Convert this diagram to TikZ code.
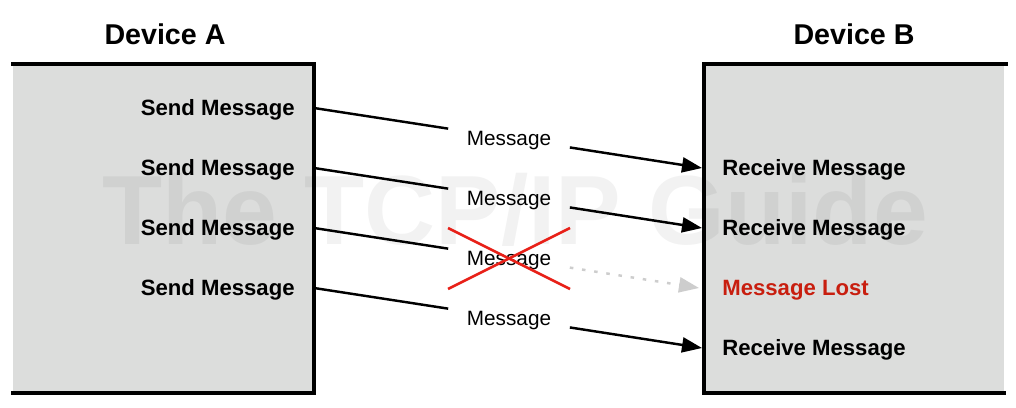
\documentclass[tikz,border=0pt]{standalone}
\usepackage{fontspec}
\setmainfont{Liberation Sans}
\usetikzlibrary{arrows.meta}
\definecolor{boxgray}{RGB}{220,221,220}
\definecolor{lostred}{RGB}{200,30,15}
\definecolor{xred}{RGB}{232,32,24}
\definecolor{ghost}{RGB}{205,205,205}
\tikzset{
  device/.style={fill=boxgray},
  border/.style={line width=2.3pt, line cap=rect},
  title/.style={font=\bfseries\fontsize{16.3}{18}\selectfont, inner sep=0pt, text height=11.7pt, text depth=0pt},
  sendlbl/.style={font=\bfseries\fontsize{12.6}{14}\selectfont, anchor=east, inner sep=0pt, text height=9pt, text depth=0pt},
  recvlbl/.style={font=\bfseries\fontsize{12.6}{14}\selectfont, anchor=west, inner sep=0pt, text height=9pt, text depth=0pt},
  msg/.style={font=\fontsize{11.8}{13}\selectfont, minimum width=2.42cm, minimum height=0.7cm, inner sep=0pt, text height=8.4pt, text depth=0pt},
  link/.style={line width=1.4pt},
  flow/.style={line width=1.4pt, -{Triangle[length=0.4cm,width=0.3cm]}},
  lostflow/.style={ghost, line width=1.4pt, dash pattern=on 2pt off 5pt, -{Triangle[length=0.4cm,width=0.3cm]}},
  cross/.style={xred, line width=1.5pt},
  watermark/.style={font=\bfseries\fontsize{56}{60}\selectfont, text=black, opacity=0.05, inner sep=0pt}
}
\begin{document}
\begin{tikzpicture}[x=0.02cm, y=-0.02cm]
\useasboundingbox[fill=white] (0,0) rectangle (1016,408);
% boxes
\fill[device] (13,64) rectangle (314,393);
\fill[device] (704,64) rectangle (1004,393);
\draw[border] (13,64) -- (314,64) -- (314,393) -- (13,393);
\draw[border] (1006,64) -- (704,64) -- (704,393) -- (1004,393);
% watermark
\node[watermark] (wm) at (515,210) {The TCP/IP Guide};
% titles
\node[title] (ta) at (165,34) {Device A};
\node[title] (tb) at (854,34) {Device B};
% send labels
\node[sendlbl] (s1) at (295,108) {Send Message};
\node[sendlbl] (s2) at (295,168) {Send Message};
\node[sendlbl] (s3) at (295,228) {Send Message};
\node[sendlbl] (s4) at (295,288) {Send Message};
% receive labels
\node[recvlbl] (r1) at (722,168) {Receive Message};
\node[recvlbl] (r2) at (722,228) {Receive Message};
\node[recvlbl, text=lostred] (r3) at (722,288) {Message Lost};
\node[recvlbl] (r4) at (722,348) {Receive Message};
% edge coordinates
\coordinate (a1) at (314,108);
\coordinate (a2) at (314,168);
\coordinate (a3) at (314,228);
\coordinate (a4) at (314,288);
\coordinate (b1) at (702,168);
\coordinate (b2) at (702,228);
\coordinate (b3) at (699,288);
\coordinate (b4) at (702,348);
% message labels
\node[msg] (m1) at (509,138) {Message};
\node[msg] (m2) at (509,198) {Message};
\node[msg] (m3) at (509,258) {Message};
\node[msg] (m4) at (509,318) {Message};
% connectors
\draw[link] (a1) -- (m1);
\draw[flow] (m1) -- (b1);
\draw[link] (a2) -- (m2);
\draw[flow] (m2) -- (b2);
\draw[link] (a3) -- (m3);
\draw[lostflow] (m3) -- (b3);
\draw[link] (a4) -- (m4);
\draw[flow] (m4) -- (b4);
% cross
\coordinate (x1) at (448,228);
\coordinate (x2) at (570,289);
\coordinate (x3) at (448,289);
\coordinate (x4) at (570,228);
\draw[cross] (x1) -- (x2);
\draw[cross] (x3) -- (x4);
\end{tikzpicture}
\end{document}
